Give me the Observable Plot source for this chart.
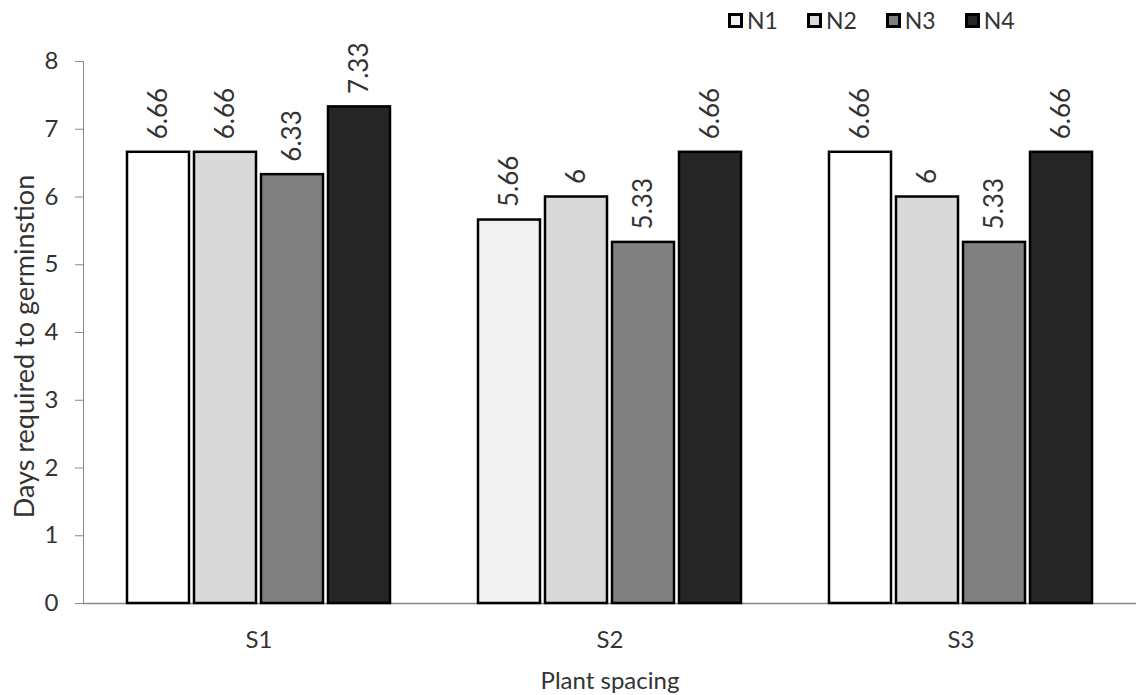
<!DOCTYPE html>
<html>
<head>
<meta charset="utf-8">
<script src="https://cdn.jsdelivr.net/npm/d3@7"></script>
<script src="https://cdn.jsdelivr.net/npm/@observablehq/plot@0.6"></script>
<style>
  html, body { margin: 0; padding: 0; background: #fff; }
  #wrap { position: relative; width: 1137px; height: 695px; font-family: Lato, sans-serif; color: #333; }
  #legend { position: absolute; left: 728px; top: 6px; display: flex; align-items: center; font-size: 23px; }
  #legend .item { display: flex; align-items: center; margin-right: 29px; }
  #legend .sw { width: 15px; height: 15px; box-sizing: border-box; border: 3px solid #000; margin-right: 4px; }
</style>
</head>
<body>
<div id="wrap">
  <div id="legend"></div>
</div>
<script>
// Plant spacing groups and nitrogen levels
const groups = ["S1", "S2", "S3"];
const series = ["N1", "N2", "N3", "N4"];

// Days required to germination, one array per spacing (N1..N4)
const valuesS1 = [6.66, 6.66, 6.33, 7.33];
const valuesS2 = [5.66, 6, 5.33, 6.66];
const valuesS3 = [6.66, 6, 5.33, 6.66];

const yTicks = [0, 1, 2, 3, 4, 5, 6, 7, 8];
const xTitle = "Plant spacing";
const yTitle = "Days required to germinstion";

// Fill for each nitrogen level; the S2/N1 bar uses a faint grey
const palette = ["#ffffff", "#d9d9d9", "#808080", "#262626"];
const legendPalette = ["#f2f2f2", "#d9d9d9", "#808080", "#262626"];
const s2N1Fill = "#f2f2f2";

const byGroup = {S1: valuesS1, S2: valuesS2, S3: valuesS3};
const rows = groups.flatMap(g => series.map((s, i) => ({group: g, series: s, value: byGroup[g][i]})));

const fillOf = d => (d.group === "S2" && d.series === "N1") ? s2N1Fill : palette[series.indexOf(d.series)];
const axisGrey = "#898989";
const ink = "#333";

const chart = Plot.plot({
  width: 1137,
  height: 695,
  marginLeft: 82,
  marginRight: 0,
  marginTop: 61,
  marginBottom: 92,
  style: {fontFamily: "Lato, sans-serif", fontSize: "24px", color: ink, background: "transparent", overflow: "visible"},
  fx: {domain: groups, padding: 0, axis: null},
  x: {domain: series, paddingInner: 0.08, paddingOuter: 0.65, axis: null},
  y: {domain: [0, 8], axis: null},
  marks: [
    Plot.frame({anchor: "left", facet: "super", stroke: axisGrey}),
    Plot.ruleY([0], {stroke: axisGrey, strokeWidth: 1.5}),
    Plot.axisY({ticks: yTicks, tickSize: 8, tickPadding: 17, stroke: axisGrey, fill: ink, fontSize: 24, label: null}),
    Plot.axisFx({anchor: "bottom", tickSize: 0, tickPadding: 27, fill: ink, fontSize: 24, label: null}),
    Plot.barY(rows, {fx: "group", x: "series", y: "value", fill: fillOf, stroke: "#000", strokeWidth: 2.5}),
    Plot.text(rows, {fx: "group", x: "series", y: "value", text: d => String(d.value), rotate: -90, textAnchor: "start", dy: -13, fontSize: 26, fill: ink}),
    // axis titles
    Plot.text([yTitle], {frameAnchor: "left", facet: "super", textAnchor: "middle", lineAnchor: "middle", rotate: -90, dx: -58, dy: 14, fontSize: 27, fill: ink}),
    Plot.text([xTitle], {frameAnchor: "bottom", facet: "super", textAnchor: "middle", lineAnchor: "middle", dy: 78, fontSize: 24, fill: ink})
  ]
});

const wrap = document.getElementById("wrap");
wrap.appendChild(chart);

// Legend above the plot, top right
const legend = d3.select("#legend");
series.forEach((s, i) => {
  const item = legend.append("div").attr("class", "item");
  item.append("div").attr("class", "sw").style("background", legendPalette[i]);
  item.append("span").text(s);
});
</script>
</body>
</html>
